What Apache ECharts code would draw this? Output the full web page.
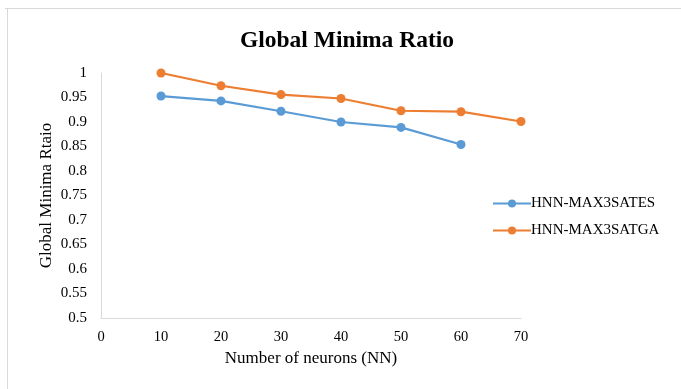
<!DOCTYPE html>
<html><head><meta charset="utf-8">
<script src="https://cdn.jsdelivr.net/npm/echarts@6/dist/echarts.min.js"></script>
<style>html,body{margin:0;padding:0;background:#fff}#c{width:681px;height:389px}</style>
</head><body><div id="c"></div>
<script>
var xTicks = [0, 10, 20, 30, 40, 50, 60, 70];
var neurons = [10, 20, 30, 40, 50, 60, 70];
var esValues = [0.953, 0.943, 0.922, 0.900, 0.889, 0.854];
var gaValues = [1.000, 0.974, 0.956, 0.948, 0.923, 0.921, 0.901];
var seriesNames = ['HNN-MAX3SATES', 'HNN-MAX3SATGA'];

function pairs(xs, ys) { return ys.map(function (v, i) { return [xs[i], v]; }); }

var font = '"Liberation Serif", "Times New Roman", serif';
var chart = echarts.init(document.getElementById('c'));
chart.setOption({
  animation: false,
  textStyle: { fontFamily: font },
  title: {
    text: 'Global Minima Ratio', left: 342, top: 24, textAlign: 'center',
    textStyle: { fontFamily: font, fontSize: 23.5, fontWeight: 'bold', color: '#000' }
  },
  graphic: [
    { type: 'line', shape: { x1: 5, y1: 8.5, x2: 681, y2: 8.5 }, style: { stroke: '#d9d9d9', lineWidth: 1 } },
    { type: 'line', shape: { x1: 7.5, y1: 8, x2: 7.5, y2: 389 }, style: { stroke: '#d9d9d9', lineWidth: 1 } }
  ],
  legend: {
    orient: 'vertical', left: 487, top: 191, itemGap: 12,
    itemWidth: 38, itemHeight: 10,
    textStyle: { fontFamily: font, fontSize: 15, color: '#000', padding: [0, 0, 0, -5] },
    data: seriesNames
  },
  grid: { left: 101, right: 160, top: 73, bottom: 71 },
  xAxis: {
    type: 'value', min: 0, max: 70, interval: 10,
    name: 'Number of neurons (NN)', nameLocation: 'middle', nameGap: 32,
    nameMoveOverlap: false,
    nameTextStyle: { fontFamily: font, fontSize: 17, color: '#000' },
    axisLine: { lineStyle: { color: '#d9d9d9' } },
    axisTick: { show: false },
    splitLine: { show: false },
    axisLabel: { fontFamily: font, fontSize: 14.5, color: '#000', margin: 12 }
  },
  yAxis: {
    type: 'value', min: 0.5, max: 1, interval: 0.05,
    name: 'Global Minima Rtaio', nameLocation: 'middle', nameGap: 46,
    nameMoveOverlap: false,
    nameTextStyle: { fontFamily: font, fontSize: 17, color: '#000' },
    axisLine: { show: true, lineStyle: { color: '#d9d9d9' } },
    axisTick: { show: false },
    splitLine: { show: false },
    axisLabel: { fontFamily: font, fontSize: 15, color: '#000', margin: 14,
      formatter: function (v) { return String(+v.toFixed(2)); } }
  },
  series: [
    { name: seriesNames[0], type: 'line', data: pairs(neurons, esValues),
      symbol: 'circle', symbolSize: 9, color: '#5b9bd5',
      lineStyle: { width: 2.2, color: '#5b9bd5' }, itemStyle: { color: '#5b9bd5' } },
    { name: seriesNames[1], type: 'line', data: pairs(neurons, gaValues),
      symbol: 'circle', symbolSize: 9, color: '#ed7d31',
      lineStyle: { width: 2.2, color: '#ed7d31' }, itemStyle: { color: '#ed7d31' } }
  ]
});
</script></body></html>
